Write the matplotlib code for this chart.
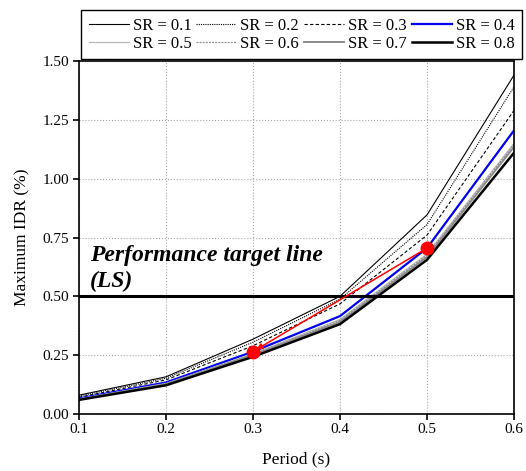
#!/usr/bin/env python3

import matplotlib
matplotlib.use("Agg")
import matplotlib.pyplot as plt

plt.rc("font", family="Liberation Serif")

# data
period = [0.1, 0.2, 0.3, 0.4, 0.5, 0.6]
sr_labels = ["SR = 0.1", "SR = 0.2", "SR = 0.3", "SR = 0.4",
             "SR = 0.5", "SR = 0.6", "SR = 0.7", "SR = 0.8"]
idr_sr01 = [0.080, 0.158, 0.318, 0.500, 0.846, 1.44]
idr_sr02 = [0.076, 0.152, 0.305, 0.488, 0.805, 1.39]
idr_sr03 = [0.071, 0.145, 0.290, 0.468, 0.760, 1.29]
idr_sr04 = [0.066, 0.134, 0.265, 0.416, 0.705, 1.205]
idr_sr05 = [0.064, 0.130, 0.256, 0.402, 0.680, 1.15]
idr_sr06 = [0.063, 0.128, 0.253, 0.398, 0.675, 1.145]
idr_sr07 = [0.062, 0.126, 0.250, 0.392, 0.668, 1.135]
idr_sr08 = [0.060, 0.122, 0.243, 0.382, 0.655, 1.11]
target_idr = 0.5
marker_x = [0.3, 0.5]
marker_y = [0.262, 0.705]

series = [idr_sr01, idr_sr02, idr_sr03, idr_sr04,
          idr_sr05, idr_sr06, idr_sr07, idr_sr08]
styles = [
    dict(color="black", lw=0.8, ls="-"),
    dict(color="black", lw=0.8, ls=(0, (1, 1))),
    dict(color="black", lw=0.8, ls=(0, (3, 2))),
    dict(color="#0000ee", lw=1.6, ls="-"),
    dict(color="#b8b8b8", lw=0.9, ls="-"),
    dict(color="#8c8c8c", lw=0.9, ls=(0, (1.5, 1))),
    dict(color="#8a8a8a", lw=1.4, ls="-"),
    dict(color="black", lw=1.8, ls="-"),
]

fig = plt.figure(figsize=(5.26, 4.71), dpi=100)
ax = fig.add_axes([79 / 526, 57 / 471, 435 / 526, 353 / 471])

lines = []
for values, label, style in zip(series, sr_labels, styles):
    (line,) = ax.plot(period, values, label=label, **style)
    lines.append(line)

# performance target
ax.axhline(target_idr, color="black", lw=2.2, zorder=5)
ax.text(0.113, 0.518, "Performance target line\n(LS)", fontsize=17,
        fontweight="bold", fontstyle="italic", va="bottom", ha="left",
        linespacing=1.3)

# red arrow between the two points
ax.annotate("", xy=(marker_x[0] + 0.004, marker_y[0] + 0.012),
            xytext=(marker_x[1], marker_y[1]),
            arrowprops=dict(arrowstyle="-|>", color="red", lw=1.1,
                            mutation_scale=9, shrinkA=0, shrinkB=0),
            zorder=6)
ax.plot(marker_x, marker_y, "o", color="red", markersize=9, zorder=7)

# axes
ax.set_xlim(0.1, 0.6)
ax.set_ylim(0.0, 1.5)
ax.set_xticks(period)
ax.set_xticklabels([f"{p:.1f}" for p in period])
ax.set_yticks([0.0, 0.25, 0.5, 0.75, 1.0, 1.25, 1.5])
ax.set_yticklabels(["0.00", "0.25", "0.50", "0.75", "1.00", "1.25", "1.50"])
ax.tick_params(direction="out", length=4, width=1.2, labelsize=11, pad=3)
ax.tick_params(axis="x", pad=2.5)
ax.grid(True, ls=":", color="#a8a8a8", lw=0.8)
for spine in ax.spines.values():
    spine.set_linewidth(1.2)
ax.set_xlabel("Period (s)", fontsize=12.5, labelpad=11)
ax.set_ylabel("Maximum IDR (%)", fontsize=12.5, labelpad=9)

# legend: row-wise order over 4 columns
order = [0, 4, 1, 5, 2, 6, 3, 7]
leg = fig.legend([lines[i] for i in order], [sr_labels[i] for i in order],
                 ncol=4, loc="lower left",
                 bbox_to_anchor=(81 / 526, 1 - 59 / 471, 441 / 526, 48 / 471),
                 mode="expand", fontsize=12, handlelength=2.4,
                 handletextpad=0.25, columnspacing=0.3, borderpad=0.45,
                 labelspacing=0.1, borderaxespad=0, fancybox=False,
                 framealpha=1)
leg.get_frame().set_edgecolor("black")
leg.get_frame().set_linewidth(1.0)

fig.savefig("out.png", dpi=100)
